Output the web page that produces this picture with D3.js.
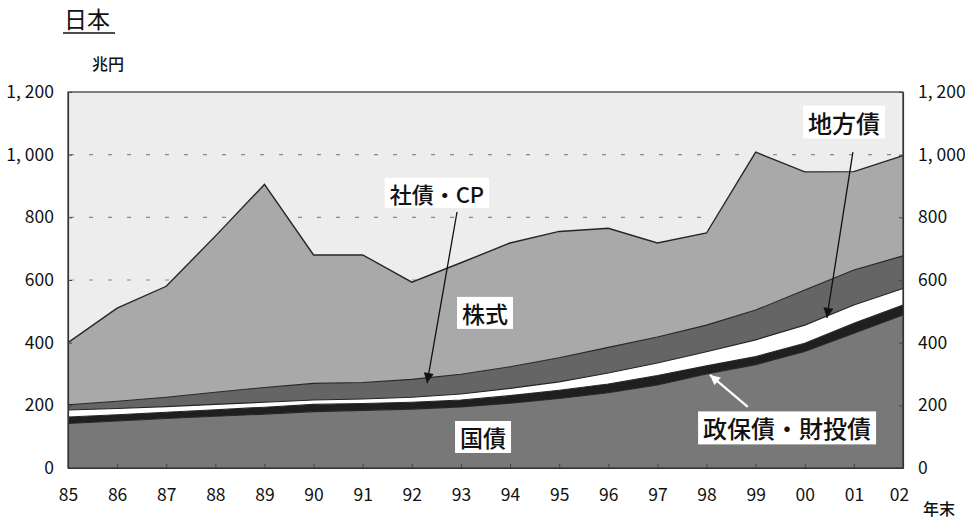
<!DOCTYPE html>
<html>
<head>
<meta charset="utf-8">
<script src="https://cdn.jsdelivr.net/npm/d3@7"></script>
<style>
  body { margin: 0; background: #fff; }
  svg text { font-family: "Noto Sans CJK JP", "Noto Sans", sans-serif; }
</style>
</head>
<body>
<svg id="chart" width="965" height="520"></svg>
<script>
// 年末残高（兆円）
const years   = ["85","86","87","88","89","90","91","92","93","94","95","96","97","98","99","00","01","02"];
const kokusai = [142,150,158,165,172,180,184,188,195,207,222,240,265,300,330,372,430,488]; // 国債
const seiho   = [ 21, 20, 20, 21, 22, 23, 22, 22, 22, 24, 26, 28, 30, 26, 26, 26, 32, 32]; // 政保債・財投債
const chihou  = [ 22, 20, 18, 17, 16, 14, 14, 16, 19, 23, 27, 35, 40, 45, 53, 58, 58, 53]; // 地方債
const shasai  = [ 17, 23, 30, 39, 47, 53, 53, 57, 63, 69, 77, 82, 83, 85, 95,112,112,104]; // 社債・CP
const kabu    = [198,297,354,498,648,410,407,310,356,395,403,380,300,294,504,377,314,320]; // 株式
const seriesKeys = ["国債","政保債・財投債","地方債","社債・CP","株式"];
const yTicks  = [0,200,400,600,800,1000,1200];
const gridTicks = [200,400,600,800,1000];

const fills = {
  "国債": "#787878",
  "政保債・財投債": "#1f1f1f",
  "地方債": "#ffffff",
  "社債・CP": "#656565",
  "株式": "#a9a9a9"
};

const table = years.map((yr, i) => ({
  year: yr,
  "国債": kokusai[i],
  "政保債・財投債": seiho[i],
  "地方債": chihou[i],
  "社債・CP": shasai[i],
  "株式": kabu[i]
}));

const svg = d3.select("#chart");
const L = 68, R = 903, T = 92, B = 468;

const x = d3.scalePoint().domain(years).range([L, R]).padding(0);
const xi = d3.scaleLinear().domain([0, years.length - 1]).range([L, R]);
const y = d3.scaleLinear().domain([0, 1200]).range([B, T]);

// title
svg.append("text").attr("x", 64).attr("y", 28)
  .attr("font-size", 23).attr("fill", "#111").text("日本");
svg.append("line").attr("x1", 63).attr("x2", 115).attr("y1", 33).attr("y2", 33)
  .attr("stroke", "#111").attr("stroke-width", 1.5);

// unit
svg.append("text").attr("x", 108).attr("y", 70).attr("text-anchor", "middle")
  .attr("font-size", 16).attr("font-weight", 500).attr("fill", "#111").text("兆円");
svg.append("text").attr("x", 939).attr("y", 515).attr("text-anchor", "middle")
  .attr("font-size", 16).attr("font-weight", 500).attr("fill", "#111").text("年末");

// plot background
svg.append("rect").attr("x", L).attr("y", T).attr("width", R - L).attr("height", B - T)
  .attr("fill", "#ededed");

// dashed grid
svg.append("g").selectAll("line").data(gridTicks).join("line")
  .attr("x1", L + 2).attr("x2", R).attr("y1", d => y(d)).attr("y2", d => y(d))
  .attr("stroke", "#8a8a8a").attr("stroke-width", 1.2)
  .attr("stroke-dasharray", "4,15");

// stacked areas
const stack = d3.stack().keys(seriesKeys);
const layers = stack(table);

const area = d3.area()
  .x(d => x(d.data.year))
  .y0(d => y(d[0]))
  .y1(d => y(d[1]));
const topLine = d3.line()
  .x(d => x(d.data.year))
  .y(d => y(d[1]));

const gA = svg.append("g");
gA.selectAll("path.area").data(layers).join("path")
  .attr("class", "area")
  .attr("d", area)
  .attr("fill", d => fills[d.key]);
gA.selectAll("path.edge").data(layers).join("path")
  .attr("class", "edge")
  .attr("d", topLine)
  .attr("fill", "none")
  .attr("stroke", "#262626")
  .attr("stroke-width", d => d.key === "株式" ? 1.4 : 1.1);

// frame
svg.append("rect").attr("x", L).attr("y", T).attr("width", R - L).attr("height", B - T)
  .attr("fill", "none").attr("stroke", "#333").attr("stroke-width", 1.2);

const fmt = d => d >= 1000 ? d3.format(",")(d).replace(",", ", ") : String(d);

// axes
const gLeft = svg.append("g").attr("transform", `translate(${L},0)`)
  .call(d3.axisLeft(y).tickValues(yTicks).tickFormat(fmt).tickSizeInner(-4).tickSizeOuter(0).tickPadding(14));
const gRight = svg.append("g").attr("transform", `translate(${R},0)`)
  .call(d3.axisRight(y).tickValues(yTicks).tickFormat(fmt).tickSizeInner(-4).tickSizeOuter(0).tickPadding(15));
const gBottom = svg.append("g").attr("transform", `translate(0,${B})`)
  .call(d3.axisBottom(x).tickSizeInner(-4).tickSizeOuter(0).tickPadding(21));

[gLeft, gRight, gBottom].forEach(g => {
  g.select(".domain").attr("stroke", "#333").attr("stroke-width", 1.2);
  g.selectAll(".tick line").attr("stroke", "#444");
  g.selectAll(".tick text").attr("font-size", 17.5).attr("fill", "#111")
    .attr("font-family", "\"Noto Sans CJK JP\", \"Noto Sans\", sans-serif");
});
gBottom.selectAll(".tick").filter(d => d === "85" || d === "02").select("line").remove();
gBottom.selectAll(".tick").filter(d => d === "02").select("text").attr("dx", -4);

// arrowheads
const defs = svg.append("defs");
function marker(id, color) {
  defs.append("marker").attr("id", id)
    .attr("viewBox", "0 0 10 10").attr("refX", 10).attr("refY", 5)
    .attr("markerWidth", 12).attr("markerHeight", 10)
    .attr("markerUnits", "userSpaceOnUse")
    .attr("orient", "auto")
    .append("path").attr("d", "M0,0 L10,5 L0,10 Z").attr("fill", color);
}
marker("arBlack", "#111");
marker("arWhite", "#ffffff");

// annotations: positions in (year index, 兆円)
const arrows = [
  { from: [7.92, 817], to: [7.31, 271], color: "#111", id: "arBlack", w: 1.3 },
  { from: [15.98, 1008], to: [15.45, 479], color: "#111", id: "arBlack", w: 1.3 },
  { from: [13.84, 195], to: [13.07, 297], color: "#ffffff", id: "arWhite", w: 2.2 }
];
svg.append("g").selectAll("line").data(arrows).join("line")
  .attr("x1", d => xi(d.from[0])).attr("y1", d => y(d.from[1]))
  .attr("x2", d => xi(d.to[0])).attr("y2", d => y(d.to[1]))
  .attr("stroke", d => d.color).attr("stroke-width", d => d.w)
  .attr("marker-end", d => `url(#${d.id})`);

const labels = [
  { text: "社債・CP", at: [7.51, 878], size: 22 },
  { text: "株式", at: [8.49, 495], size: 23 },
  { text: "国債", at: [8.45, 99], size: 23 },
  { text: "政保債・財投債", at: [14.64, 128], size: 24 },
  { text: "地方債", at: [15.8, 1104], size: 24 }
];
const gL = svg.append("g");
labels.forEach(lb => {
  const cx = xi(lb.at[0]), cy = y(lb.at[1]);
  const t = gL.append("text").attr("x", cx).attr("y", cy)
    .attr("text-anchor", "middle").attr("dominant-baseline", "central")
    .attr("font-size", lb.size).attr("font-weight", 500).attr("fill", "#111")
    .text(lb.text);
  const bb = t.node().getBBox();
  gL.insert("rect", () => t.node())
    .attr("x", bb.x - 5).attr("y", bb.y + 1).attr("width", bb.width + 10).attr("height", bb.height - 2)
    .attr("fill", "#fff");
});
</script>
</body>
</html>
